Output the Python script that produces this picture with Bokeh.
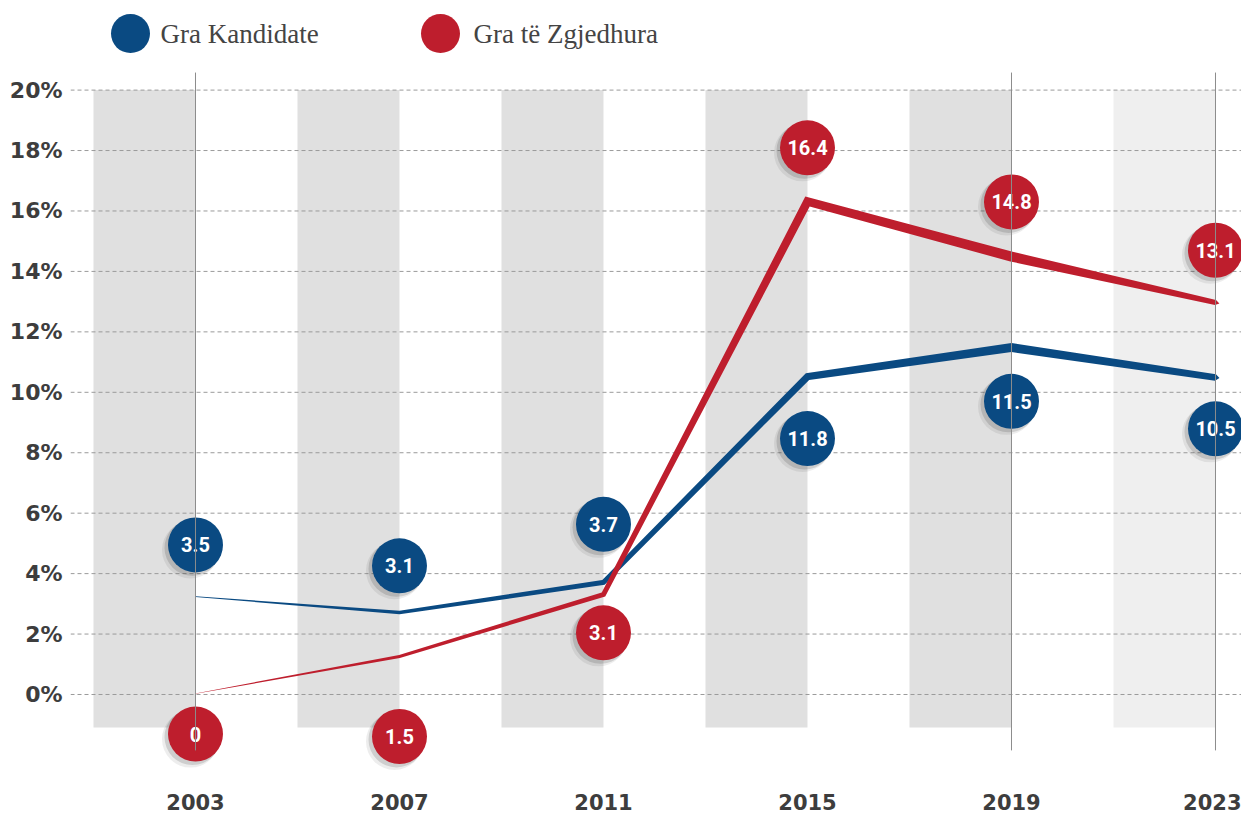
import math
from bokeh.plotting import figure
from bokeh.models import Range1d, FixedTicker, ColumnDataSource
from bokeh.core.properties import value
from bokeh.embed import file_html
from bokeh.resources import INLINE

# ---------------- data ----------------
years = ["2003", "2007", "2011", "2015", "2019", "2023"]
series_names = ["Gra Kandidate", "Gra të Zgjedhura"]
# line positions (%)
candidates_line = [3.24, 2.71, 3.71, 10.52, 11.48, 10.49]
elected_line = [0.03, 1.26, 3.31, 16.31, 14.49, 12.97]
# bubble label values
candidates_labels = [3.5, 3.1, 3.7, 11.8, 11.5, 10.5]
elected_labels = [0, 1.5, 3.1, 16.4, 14.8, 13.1]
y_ticks = [0, 2, 4, 6, 8, 10, 12, 14, 16, 18, 20]
y_tick_labels = ["0%", "2%", "4%", "6%", "8%", "10%", "12%", "14%", "16%", "18%", "20%"]

# ---------------- layout / style constants ----------------
BLUE = "#0a4a82"
RED = "#be1e2d"
TEXT = "#3d3d3d"
SX = 204.0    # px per year step
SY = 30.22    # px per percent
X0, X1 = -0.6127, 5.1275
Y0, Y1 = -2.515, 22.965
cand_label_offset = [1.71, 1.55, 1.92, -2.05, -1.78, -1.70]
elect_label_offset = [-1.34, -2.65, -1.27, 1.78, 1.81, 1.73]
cand_widths = [0.6, 3.5, 5.0, 7.0, 9.0, 6.5]
elect_widths = [0.4, 3.0, 5.0, 8.5, 10.0, 5.0]
band_colors = ["#e0e0e0"] * 5 + ["#efefef"]
vline_idx = [0, 4, 5]

xs = list(range(len(years)))

p = figure(width=1241, height=817,
           x_range=Range1d(X0, X1), y_range=Range1d(Y0, Y1),
           output_backend="svg", toolbar_location=None,
           min_border_left=70, min_border_right=0, min_border_top=0,
           min_border_bottom=47)
p.outline_line_color = None
p.grid.visible = False
p.background_fill_color = "white"

# axes
p.xaxis.ticker = FixedTicker(ticks=xs)
p.xaxis.major_label_overrides = {i: y for i, y in zip(xs, years)}
p.yaxis.ticker = FixedTicker(ticks=y_ticks)
p.yaxis.major_label_overrides = {t: l for t, l in zip(y_ticks, y_tick_labels)}
for ax in (p.xaxis, p.yaxis):
    ax.axis_line_color = None
    ax.major_tick_line_color = None
    ax.minor_tick_line_color = None
    ax.major_tick_out = 0
    ax.major_tick_in = 0
    ax.major_label_text_font = "DejaVu Sans"
    ax.major_label_text_font_style = "bold"
    ax.major_label_text_color = TEXT
p.xaxis.major_label_text_font_size = "21px"
p.xaxis.major_label_standoff = 23
p.yaxis.major_label_text_font_size = "22px"
p.yaxis.major_label_standoff = 8

# background bands
p.quad(left=[i - 0.5 for i in xs], right=xs, bottom=-1.09, top=20,
       fill_color=band_colors, line_color=None)

# dashed grid
p.segment(x0=X0, x1=X1, y0=y_ticks, y1=y_ticks,
          line_color="#9a9a9a", line_width=1, line_dash="4 3")


def taper(xv, yv, widths, tip=4.0):
    X = [x * SX for x in xv]
    Y = [y * SY for y in yv]
    n = len(X)
    segn, segd = [], []
    for i in range(n - 1):
        dx, dy = X[i + 1] - X[i], Y[i + 1] - Y[i]
        L = math.hypot(dx, dy)
        segn.append((-dy / L, dx / L))
        segd.append((dx / L, dy / L))
    top, bot = [], []
    for i in range(n):
        if i == 0:
            nx, ny = segn[0]
            m = 1.0
        elif i == n - 1:
            nx, ny = segn[-1]
            m = 1.0
        else:
            ax_, ay_ = segn[i - 1]
            bx_, by_ = segn[i]
            nx, ny = ax_ + bx_, ay_ + by_
            L = math.hypot(nx, ny)
            nx, ny = nx / L, ny / L
            m = 1.0 / max(0.4, nx * ax_ + ny * ay_)
        h = widths[i] / 2.0 * m
        top.append((X[i] + nx * h, Y[i] + ny * h))
        bot.append((X[i] - nx * h, Y[i] - ny * h))
    dx, dy = segd[-1]
    tp = (X[-1] + dx * tip, Y[-1] + dy * tip)
    pts = top + [tp] + bot[::-1]
    return [q[0] / SX for q in pts], [q[1] / SY for q in pts]


bx, by = taper(xs, candidates_line, cand_widths)
p.patch(bx, by, fill_color=BLUE, line_color=None)
rx, ry = taper(xs, elected_line, elect_widths)
p.patch(rx, ry, fill_color=RED, line_color=None)

# bubbles
for vals, line, offs, col in ((candidates_labels, candidates_line, cand_label_offset, BLUE),
                              (elected_labels, elected_line, elect_label_offset, RED)):
    yy = [v + o for v, o in zip(line, offs)]
    src = ColumnDataSource(dict(x=xs, y=yy, t=[f"{v:g}" for v in vals]))
    p.scatter(x=[x - 5 / SX for x in xs], y=[y - 5 / SY for y in yy], size=57,
              fill_color="#000000", fill_alpha=0.07, line_color=None)
    p.scatter(x=[x - 3 / SX for x in xs], y=[y - 3 / SY for y in yy], size=56,
              fill_color="#000000", fill_alpha=0.13, line_color=None)
    p.scatter(x="x", y="y", source=src, size=55, fill_color=col, line_color=None)
    p.text(x="x", y="y", text="t", source=src, text_color="white",
           text_font=value("Roboto"), text_font_style="bold",
           text_font_size="20px", text_align="center", text_baseline="middle")

# vertical lines on top
p.segment(x0=vline_idx, x1=vline_idx, y0=-1.85, y1=20.58,
          line_color="#8c8c8c", line_width=1)

# legend (drawn inside the frame, above the plot area)
leg_y = 21.87
p.scatter(x=[-0.3186, 1.201], y=[leg_y, leg_y], size=39,
          fill_color=[BLUE, RED], line_color=None)
p.text(x=[-0.1716, 1.3627], y=[leg_y, leg_y], text=series_names,
       text_font=value("Liberation Serif"), text_font_size="27px",
       text_color="#444444", text_baseline="middle", text_align="left")

open("out.html", "w").write(file_html(p, INLINE))
